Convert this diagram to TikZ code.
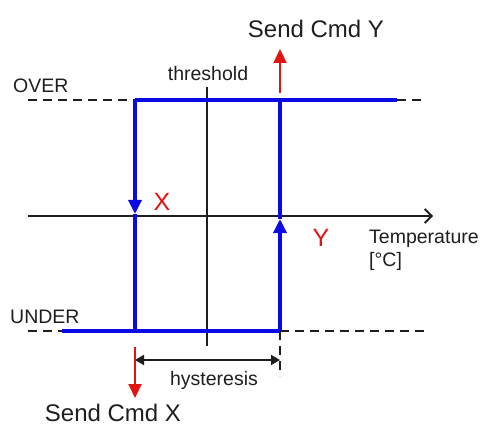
\documentclass[tikz,border=0pt]{standalone}
\usepackage{fontspec}
\setmainfont{Liberation Sans}
\usetikzlibrary{arrows.meta}
\definecolor{lineblue}{RGB}{10,10,230}
\definecolor{arrred}{RGB}{225,20,20}
\definecolor{txt}{RGB}{30,30,30}
\begin{document}
\begin{tikzpicture}[x=1pt,y=-1pt,
  bluel/.style={draw=lineblue,line width=3.3pt},
  blackl/.style={draw=txt,line width=1.8pt},
  dashl/.style={draw=txt,line width=1.6pt,dash pattern=on 9pt off 6pt},
  redarr/.style={draw=arrred,line width=2.2pt,-{Triangle[width=13pt,length=14pt]}},
  bluearr/.style={bluel,-{Triangle[width=13pt,length=14pt]}},
  lbl/.style={font=\fontsize{19.5}{22}\selectfont,text=txt,inner sep=0pt},
  big/.style={font=\fontsize{24}{28}\selectfont,text=txt,inner sep=0pt},
  redl/.style={font=\fontsize{25}{28}\selectfont,text=arrred,inner sep=0pt}]
\useasboundingbox (0,0) rectangle (486,427);
% coordinates
\coordinate (ol) at (28,100);
\coordinate (oa) at (135,100);
\coordinate (ob) at (397,100);
\coordinate (or) at (425,100);
\coordinate (ul) at (28,331);
\coordinate (ua) at (62,331);
\coordinate (ub) at (135,331);
\coordinate (uc) at (280,331);
\coordinate (ur) at (425,331);
\coordinate (oc) at (280,100);
\coordinate (xm) at (135,214);
\coordinate (ym) at (280,219);
\coordinate (tt) at (207,87);
\coordinate (tb) at (207,346);
\coordinate (al) at (28,216);
\coordinate (ar) at (433,216);
\coordinate (hl) at (135,360);
\coordinate (hr) at (280,360);
\coordinate (hd) at (280,376);
\coordinate (ry1) at (280,93);
\coordinate (ry2) at (280,49);
\coordinate (rx1) at (135,347);
\coordinate (rx2) at (135,398);
% dashed level lines
\draw[dashl] (ol) -- (oa);
\draw[dashl] (ob) -- (or);
\draw[dashl] (ul) -- (ua);
\draw[dashl] (uc) -- (ur);
\draw[dashl] (uc) -- (hd);
% axes
\draw[blackl] (tt) -- (tb);
\draw[blackl,-{Straight Barb[length=7pt,width=14pt]}] (al) -- (ar);
% hysteresis loop
\draw[bluel] (oa) -- (ob);
\draw[bluel] (ua) -- (uc);
\draw[bluearr] (oa) -- (xm);
\draw[bluel] (xm) -- (ub);
\draw[bluearr] (uc) -- (ym);
\draw[bluel] (ym) -- (oc);
% hysteresis dimension
\draw[blackl,{Triangle[width=10pt,length=9pt]}-{Triangle[width=10pt,length=9pt]}] (hl) -- (hr);
% red command arrows
\draw[redarr] (ry1) -- (ry2);
\draw[redarr] (rx1) -- (rx2);
% labels
\node[lbl,anchor=base west] (over) at (13,93) {OVER};
\node[lbl,anchor=base west] (under) at (10,323) {UNDER};
\node[lbl,anchor=base] (thr) at (208,81) {threshold};
\node[lbl,anchor=base west] (temp) at (369,243) {Temperature};
\node[lbl,anchor=base west] (unit) at (369,266) {[°C]};
\node[lbl,anchor=base] (hys) at (214,385) {hysteresis};
\node[big,anchor=base] (sy) at (316,38) {Send Cmd Y};
\node[big,anchor=base] (sx) at (113,421) {Send Cmd X};
\node[redl,anchor=base] (lx) at (162,211) {X};
\node[redl,anchor=base] (ly) at (321,247) {Y};
\end{tikzpicture}
\end{document}
